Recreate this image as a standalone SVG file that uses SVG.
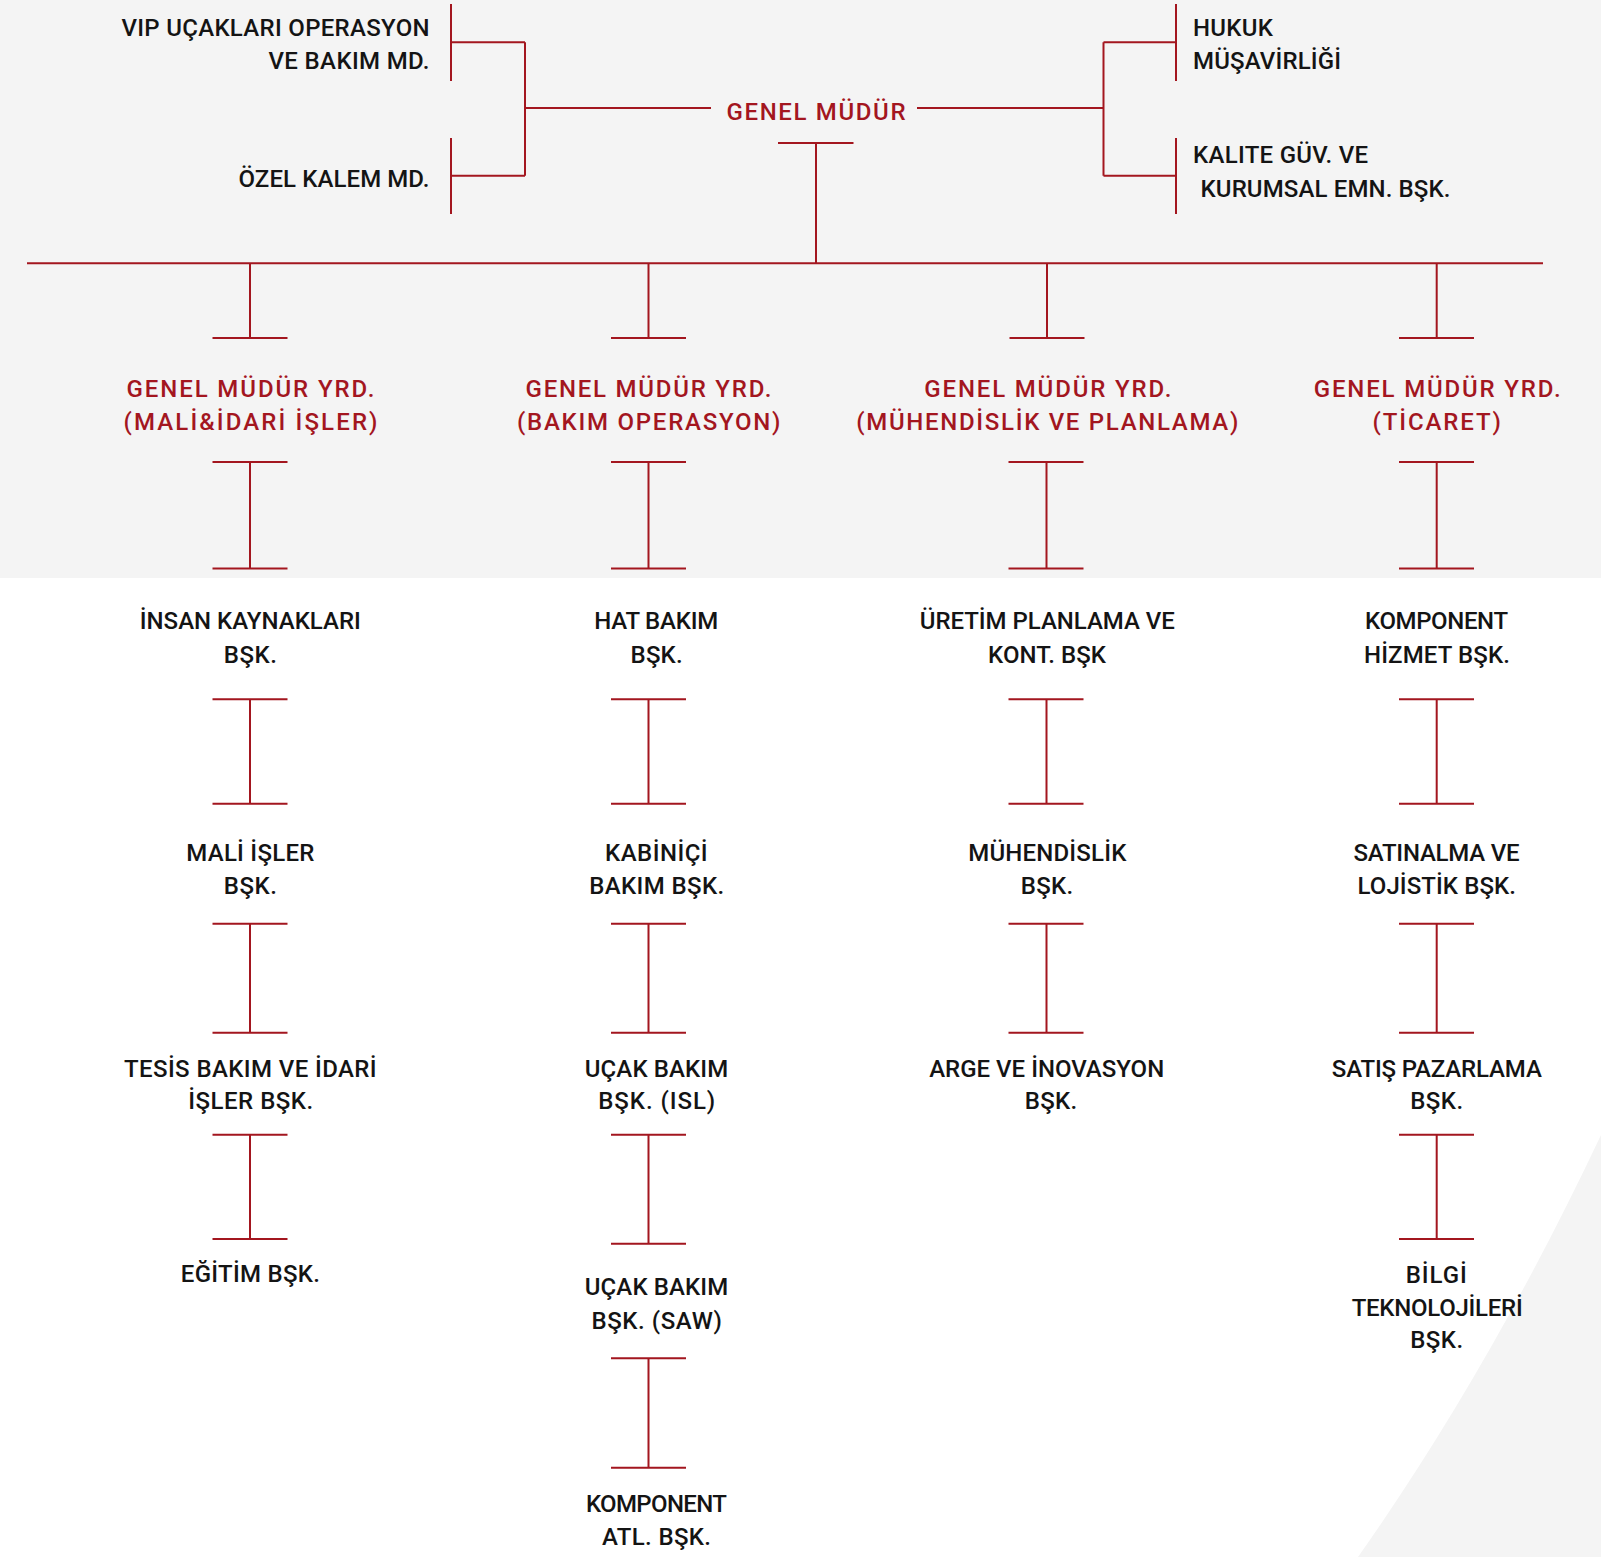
<svg xmlns="http://www.w3.org/2000/svg" width="1601" height="1557" viewBox="0 0 1601 1557">
<style>
.bg{fill:#f4f4f4}
.ln{stroke:#a3161f;stroke-width:2;fill:none}
text{font-family:Roboto,"Liberation Sans",sans-serif;font-weight:500;font-size:24px}
.k{fill:#141414}
.r{fill:#a3161f}
.m{text-anchor:middle}
.e{text-anchor:end}
</style>
<rect class="bg" x="0" y="0" width="1601" height="578"/>
<rect x="0" y="578" width="1601" height="979" fill="#ffffff"/>
<path class="bg" d="M1601 1135 Q1490 1370 1358 1557 L1601 1557 Z"/>

<g id="connectors" class="ln">
  <path d="M451 4V81M451 138V214M451 42.3H525M451 175.7H525M525 42.3V175.7M525 108H711"/>
  <path d="M917 108H1103.5M1103.5 42.3V175.7M1103.5 42.3H1176M1103.5 175.7H1176M1176 4V81M1176 138V214"/>
  <path d="M778 143H853.5M816 143V263.3M27 263.3H1543"/>
  <!-- column 1 -->
  <path d="M250 263.3V338M212.5 338H287.5"/>
  <path d="M212.5 462H287.5M250 462V568.5M212.5 568.5H287.5"/>
  <path d="M212.5 699.3H287.5M250 699.3V803.7M212.5 803.7H287.5"/>
  <path d="M212.5 923.7H287.5M250 923.7V1032.8M212.5 1032.8H287.5"/>
  <path d="M212.5 1134.8H287.5M250 1134.8V1239M212.5 1239H287.5"/>
  <!-- column 2 -->
  <path d="M648.5 263.3V338M611 338H686"/>
  <path d="M611 462H686M648.5 462V568.5M611 568.5H686"/>
  <path d="M611 699.3H686M648.5 699.3V803.7M611 803.7H686"/>
  <path d="M611 923.7H686M648.5 923.7V1032.8M611 1032.8H686"/>
  <path d="M611 1134.7H686M648.5 1134.7V1243.7M611 1243.7H686"/>
  <path d="M611 1358.3H686M648.5 1358.3V1467.7M611 1467.7H686"/>
  <!-- column 3 -->
  <path d="M1047 263.3V338M1009.5 338H1084.5"/>
  <path d="M1008.5 462H1083.5M1046.5 462V568.5M1008.5 568.5H1083.5"/>
  <path d="M1008.5 699.3H1083.5M1046.5 699.3V803.7M1008.5 803.7H1083.5"/>
  <path d="M1008.5 923.7H1083.5M1046.5 923.7V1032.8M1008.5 1032.8H1083.5"/>
  <!-- column 4 -->
  <path d="M1436.7 263.3V338M1399 338H1474"/>
  <path d="M1399 462H1474M1436.7 462V568.5M1399 568.5H1474"/>
  <path d="M1399 699.3H1474M1436.7 699.3V803.7M1399 803.7H1474"/>
  <path d="M1399 923.7H1474M1436.7 923.7V1032.8M1399 1032.8H1474"/>
  <path d="M1399 1134.8H1474M1436.7 1134.8V1239M1399 1239H1474"/>
</g>

<g id="n-vip"><text class="k e" x="429.5" y="36" textLength="308" lengthAdjust="spacing">VIP UÇAKLARI OPERASYON</text><text class="k e" x="429.5" y="69" textLength="161" lengthAdjust="spacing">VE BAKIM MD.</text></g>
<g id="n-ozel"><text class="k e" x="429.5" y="186.7" textLength="191" lengthAdjust="spacing">ÖZEL KALEM MD.</text></g>
<g id="n-gm"><text class="r m" x="816" y="120" textLength="179" lengthAdjust="spacing">GENEL MÜDÜR</text></g>
<g id="n-hukuk"><text class="k" x="1193" y="36" textLength="80" lengthAdjust="spacing">HUKUK</text><text class="k" x="1193" y="69" textLength="148" lengthAdjust="spacing">MÜŞAVİRLİĞİ</text></g>
<g id="n-kalite"><text class="k" x="1193" y="163.3" textLength="175" lengthAdjust="spacing">KALITE GÜV. VE</text><text class="k" x="1200.5" y="196.7" textLength="250" lengthAdjust="spacing">KURUMSAL EMN. BŞK.</text></g>

<g id="n-gmy-mali"><text class="r m" x="250.5" y="396.7" textLength="248" lengthAdjust="spacing">GENEL MÜDÜR YRD.</text><text class="r m" x="250.5" y="429.7" textLength="254" lengthAdjust="spacing">(MALİ&amp;İDARİ İŞLER)</text></g>
<g id="n-gmy-bakim"><text class="r m" x="648.5" y="396.7" textLength="246" lengthAdjust="spacing">GENEL MÜDÜR YRD.</text><text class="r m" x="648.7" y="429.7" textLength="263.5" lengthAdjust="spacing">(BAKIM OPERASYON)</text></g>
<g id="n-gmy-muh"><text class="r m" x="1047.8" y="396.7" textLength="247" lengthAdjust="spacing">GENEL MÜDÜR YRD.</text><text class="r m" x="1047.3" y="429.7" textLength="382" lengthAdjust="spacing">(MÜHENDİSLİK VE PLANLAMA)</text></g>
<g id="n-gmy-tic"><text class="r m" x="1437.2" y="396.7" textLength="247" lengthAdjust="spacing">GENEL MÜDÜR YRD.</text><text class="r m" x="1436.7" y="429.7" textLength="128.5" lengthAdjust="spacing">(TİCARET)</text></g>

<g id="n-ik"><text class="k m" x="250.3" y="629.3" textLength="221" lengthAdjust="spacing">İNSAN KAYNAKLARI</text><text class="k m" x="250.3" y="662.7" textLength="53" lengthAdjust="spacing">BŞK.</text></g>
<g id="n-mali"><text class="k m" x="250.3" y="861" textLength="128" lengthAdjust="spacing">MALİ İŞLER</text><text class="k m" x="250.3" y="894.3" textLength="53" lengthAdjust="spacing">BŞK.</text></g>
<g id="n-tesis"><text class="k m" x="250.3" y="1076.7" textLength="252.5" lengthAdjust="spacing">TESİS BAKIM VE İDARİ</text><text class="k m" x="250.7" y="1109.3" textLength="125" lengthAdjust="spacing">İŞLER BŞK.</text></g>
<g id="n-egitim"><text class="k m" x="250.3" y="1282.3" textLength="139" lengthAdjust="spacing">EĞİTİM BŞK.</text></g>

<g id="n-hat"><text class="k m" x="656.2" y="629.3" textLength="124" lengthAdjust="spacing">HAT BAKIM</text><text class="k m" x="656.6" y="662.7" textLength="52" lengthAdjust="spacing">BŞK.</text></g>
<g id="n-kabin"><text class="k m" x="656.3" y="861" textLength="102.5" lengthAdjust="spacing">KABİNİÇİ</text><text class="k m" x="656.7" y="894.3" textLength="135" lengthAdjust="spacing">BAKIM BŞK.</text></g>
<g id="n-isl"><text class="k m" x="656.5" y="1076.7" textLength="143.5" lengthAdjust="spacing">UÇAK BAKIM</text><text class="k m" x="656.7" y="1109.3" textLength="117" lengthAdjust="spacing">BŞK. (ISL)</text></g>
<g id="n-saw"><text class="k m" x="656.5" y="1295" textLength="143.5" lengthAdjust="spacing">UÇAK BAKIM</text><text class="k m" x="656.7" y="1329" textLength="130.5" lengthAdjust="spacing">BŞK. (SAW)</text></g>
<g id="n-katl"><text class="k m" x="656.4" y="1512.3" textLength="141" lengthAdjust="spacing">KOMPONENT</text><text class="k m" x="656.5" y="1545" textLength="109" lengthAdjust="spacing">ATL. BŞK.</text></g>

<g id="n-uretim"><text class="k m" x="1047.3" y="629.3" textLength="255" lengthAdjust="spacing">ÜRETİM PLANLAMA VE</text><text class="k m" x="1047" y="662.7" textLength="118" lengthAdjust="spacing">KONT. BŞK</text></g>
<g id="n-muh"><text class="k m" x="1047.3" y="861" textLength="158" lengthAdjust="spacing">MÜHENDİSLİK</text><text class="k m" x="1047" y="894.3" textLength="52.5" lengthAdjust="spacing">BŞK.</text></g>
<g id="n-arge"><text class="k m" x="1046.7" y="1076.7" textLength="235" lengthAdjust="spacing">ARGE VE İNOVASYON</text><text class="k m" x="1051" y="1109.3" textLength="52.5" lengthAdjust="spacing">BŞK.</text></g>

<g id="n-komp"><text class="k m" x="1436.5" y="629.3" textLength="143" lengthAdjust="spacing">KOMPONENT</text><text class="k m" x="1437" y="662.7" textLength="146" lengthAdjust="spacing">HİZMET BŞK.</text></g>
<g id="n-satin"><text class="k m" x="1436.5" y="861" textLength="166" lengthAdjust="spacing">SATINALMA VE</text><text class="k m" x="1436.7" y="894.3" textLength="158.5" lengthAdjust="spacing">LOJİSTİK BŞK.</text></g>
<g id="n-satis"><text class="k m" x="1436.8" y="1076.7" textLength="210" lengthAdjust="spacing">SATIŞ PAZARLAMA</text><text class="k m" x="1436.7" y="1109.3" textLength="53" lengthAdjust="spacing">BŞK.</text></g>
<g id="n-bilgi"><text class="k m" x="1436.2" y="1283.3" textLength="61" lengthAdjust="spacing">BİLGİ</text><text class="k m" x="1437.2" y="1315.5" textLength="171" lengthAdjust="spacing">TEKNOLOJİLERİ</text><text class="k m" x="1436.7" y="1347.7" textLength="53" lengthAdjust="spacing">BŞK.</text></g>
</svg>
